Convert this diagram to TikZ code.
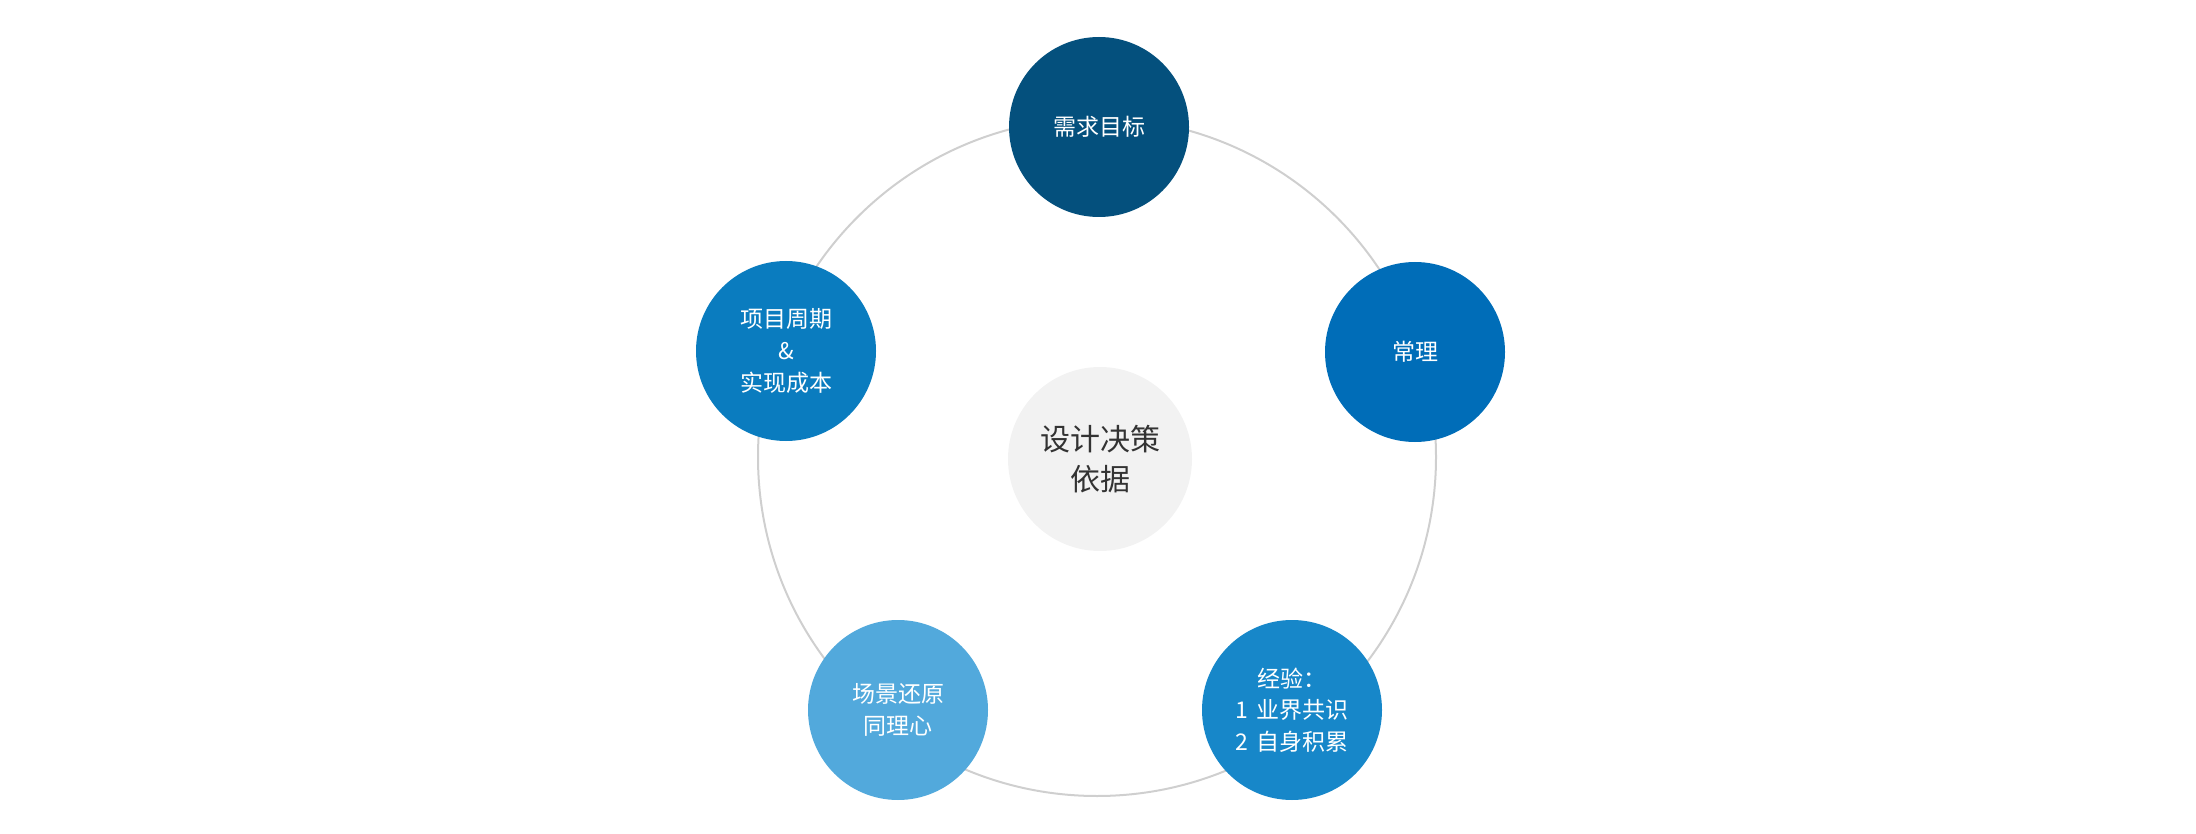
\documentclass[tikz,border=0pt]{standalone}
\usepackage{fontspec}
\setmainfont{Noto Sans CJK SC}
\newfontfamily\cjk{Noto Sans CJK SC}
\definecolor{ringgray}{HTML}{CFCFCF}
\definecolor{cTop}{HTML}{04507D}
\definecolor{cRight}{HTML}{006DB8}
\definecolor{cLeft}{HTML}{0A7CBF}
\definecolor{cBR}{HTML}{1787C9}
\definecolor{cBL}{HTML}{52A9DC}
\definecolor{cCenter}{HTML}{F2F2F2}
\definecolor{cText}{HTML}{333333}
\begin{document}
\begin{tikzpicture}[x=0.5pt,y=-0.5pt,
  bubble/.style={circle,minimum size=90pt,inner sep=0pt,text=white,align=center,
    font=\cjk\fontsize{11.5pt}{15.8pt}\selectfont},
  hub/.style={circle,minimum size=92pt,inner sep=0pt,fill=cCenter,text=cText,align=center,
    font=\cjk\fontsize{15pt}{20pt}\selectfont}]
\useasboundingbox (0,0) rectangle (2196,834);
\coordinate (ringc) at (1097,457);
\draw[ringgray,line width=1pt] (ringc) circle[radius=169.5pt];
\node[hub] (center) at (1100,459) {设计决策\\依据};
\node[bubble,fill=cTop] (top) at (1099,127) {需求目标};
\node[bubble,fill=cRight] (right) at (1415,352) {常理};
\node[bubble,fill=cLeft] (left) at (786,351) {项目周期\\\&\\实现成本};
\node[bubble,fill=cBR] (br) at (1292,710) {经验：\\1\hspace{0.35em}业界共识\\2\hspace{0.35em}自身积累};
\node[bubble,fill=cBL] (bl) at (898,710) {场景还原\\同理心};
\end{tikzpicture}
\end{document}
